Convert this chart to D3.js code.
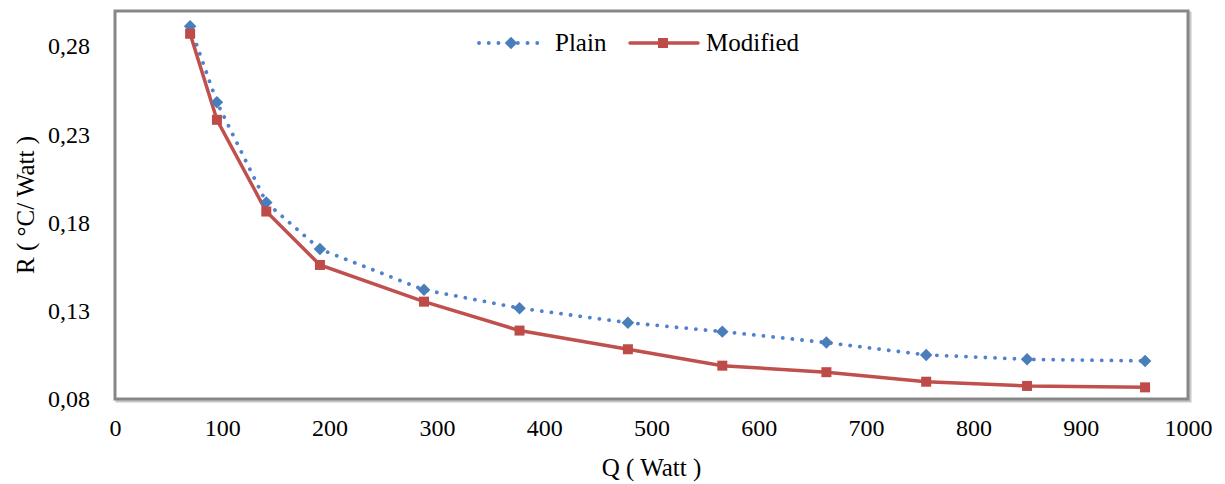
<!DOCTYPE html>
<html>
<head>
<meta charset="utf-8">
<script src="https://cdnjs.cloudflare.com/ajax/libs/d3/7.8.5/d3.min.js"></script>
<style>
  body { margin: 0; background: #fff; }
  svg text { font-family: 'Liberation Serif', 'DejaVu Serif', 'Times New Roman', serif !important; fill: #000; }
</style>
</head>
<body>
<div id="chart"></div>
<script>
// chart data
const Q = [70, 95, 141, 191, 288, 377, 478, 566, 663, 756, 850, 960];
const plainR = [0.2913, 0.2482, 0.1914, 0.1650, 0.1419, 0.1315, 0.1233, 0.1182, 0.1120, 0.1050, 0.1025, 0.1016];
const modifiedR = [0.2871, 0.2383, 0.1863, 0.1560, 0.1352, 0.1188, 0.1082, 0.0989, 0.0952, 0.0898, 0.0874, 0.0866];
const xTicks = [0, 100, 200, 300, 400, 500, 600, 700, 800, 900, 1000];
const yTicks = [0.08, 0.13, 0.18, 0.23, 0.28];
const seriesNames = ["Plain", "Modified"];

const W = 1225, H = 484;
const plotL = 115, plotR = 1188, plotT = 11, plotB = 399;
const serif = "'Liberation Serif', 'DejaVu Serif', serif";

const svg = d3.select("#chart").append("svg")
  .attr("width", W)
  .attr("height", H)
  .attr("font-family", serif);

const x = d3.scaleLinear().domain([0, 1000]).range([plotL, plotR]);
const y = d3.scaleLinear().domain([0.08, 0.30]).range([plotB, plotT]);

const fmt = d => d.toFixed(2).replace(".", ",");

// frame shadow + frame
svg.append("rect")
  .attr("x", plotL + 2).attr("y", plotT + 2)
  .attr("width", plotR - plotL).attr("height", plotB - plotT)
  .style("fill", "none").style("stroke", "#c8c8c8").style("stroke-width", 3);
svg.append("rect")
  .attr("x", plotL).attr("y", plotT)
  .attr("width", plotR - plotL).attr("height", plotB - plotT)
  .style("fill", "#fff").style("stroke", "#878787").style("stroke-width", 3);

// axes (labels only, no tick marks)
const xAxis = svg.append("g")
  .attr("transform", "translate(0," + plotB + ")")
  .call(d3.axisBottom(x).tickValues(xTicks).tickSize(0).tickPadding(20).tickFormat(d3.format("d")))
  .attr("font-family", serif)
  .attr("font-size", 24);
xAxis.select(".domain").remove();

const yAxis = svg.append("g")
  .attr("transform", "translate(" + plotL + ",0)")
  .call(d3.axisLeft(y).tickValues(yTicks).tickSize(0).tickPadding(25).tickFormat(fmt))
  .attr("font-family", serif)
  .attr("font-size", 24);
yAxis.select(".domain").remove();

// axis titles
svg.append("text")
  .attr("x", (plotL + plotR) / 2)
  .attr("y", 476)
  .attr("text-anchor", "middle")
  .attr("font-size", 25)
  .text("Q ( Watt )");

svg.append("text")
  .attr("transform", "translate(34," + ((plotT + plotB) / 2) + ") rotate(-90)")
  .attr("text-anchor", "middle")
  .attr("font-size", 25)
  .text("R ( °C/ Watt )");

const line = d3.line()
  .x(d => x(d[0]))
  .y(d => y(d[1]));

const plainData = Q.map((q, i) => [q, plainR[i]]);
const modData = Q.map((q, i) => [q, modifiedR[i]]);

// Plain: dotted blue with diamonds
svg.append("path")
  .datum(plainData)
  .attr("d", line)
  .style("fill", "none")
  .style("stroke", "#4f81d0")
  .style("stroke-width", 3.8)
  .style("stroke-linecap", "round")
  .style("stroke-dasharray", "0.1 9.6");

// Modified: solid red with squares
svg.append("path")
  .datum(modData)
  .attr("d", line)
  .style("fill", "none")
  .style("stroke", "#c0504d")
  .style("stroke-width", 3.5);

svg.selectAll("path.plainpt")
  .data(plainData)
  .enter().append("path")
  .attr("class", "plainpt")
  .attr("transform", d => "translate(" + x(d[0]) + "," + y(d[1]) + ") rotate(45)")
  .attr("d", d3.symbol().type(d3.symbolSquare).size(78))
  .style("fill", "#4a7ebb");

svg.selectAll("rect.modpt")
  .data(modData)
  .enter().append("rect")
  .attr("class", "modpt")
  .attr("x", d => x(d[0]) - 5)
  .attr("y", d => y(d[1]) - 5)
  .attr("width", 10)
  .attr("height", 10)
  .style("fill", "#be4b48");

// legend
const legend = svg.append("g");
legend.append("line")
  .attr("x1", 479).attr("x2", 540).attr("y1", 43).attr("y2", 43)
  .style("stroke", "#4f81d0").style("stroke-width", 3.8)
  .style("stroke-linecap", "round").style("stroke-dasharray", "0.1 9.6");
legend.append("path")
  .attr("transform", "translate(511,43) rotate(45)")
  .attr("d", d3.symbol().type(d3.symbolSquare).size(78))
  .style("fill", "#4a7ebb");
legend.append("text")
  .attr("x", 555).attr("y", 51)
  .attr("font-size", 25)
  .text(seriesNames[0]);

legend.append("line")
  .attr("x1", 630).attr("x2", 698).attr("y1", 43).attr("y2", 43)
  .style("stroke", "#c0504d").style("stroke-width", 3.5)
  .style("stroke-linecap", "round");
legend.append("rect")
  .attr("x", 658).attr("y", 38).attr("width", 10).attr("height", 10)
  .style("fill", "#be4b48");
legend.append("text")
  .attr("x", 706).attr("y", 51)
  .attr("font-size", 25)
  .text(seriesNames[1]);
</script>
</body>
</html>
